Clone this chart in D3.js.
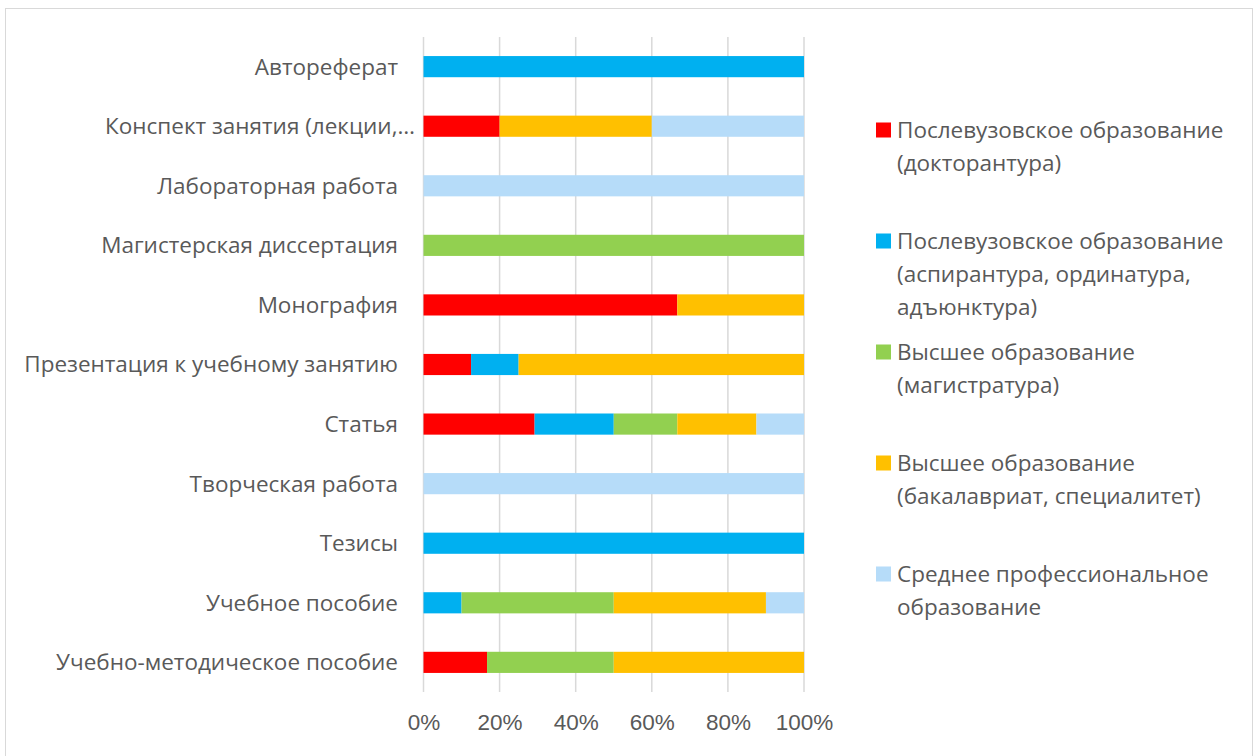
<!DOCTYPE html>
<meta charset="utf-8">
<style>
body { margin: 0; background: #fff; font-family: "Open Sans", sans-serif; }
.grid line { stroke: #d9d9d9; stroke-width: 1.5; }
.axis text { fill: #595959; font-size: 22.5px; }
.cat { fill: #595959; font-size: 22.5px; }
.legend text { fill: #595959; font-size: 22.5px; }
</style>
<body>
<svg width="1259" height="756"></svg>
<script src="https://d3js.org/d3.v7.min.js"></script>
<script>

var categories = ["Автореферат", "Конспект занятия (лекции,…", "Лабораторная работа",
    "Магистерская диссертация", "Монография", "Презентация к учебному занятию", "Статья",
    "Творческая работа", "Тезисы", "Учебное пособие", "Учебно-методическое пособие"];

var seriesNames = [
    ["Послевузовское образование", "(докторантура)"],
    ["Послевузовское образование", "(аспирантура, ординатура,", "адъюнктура)"],
    ["Высшее образование", "(магистратура)"],
    ["Высшее образование", "(бакалавриат, специалитет)"],
    ["Среднее профессиональное", "образование"]
];
var colors = ["#ff0000", "#00b0f0", "#92d050", "#ffc000", "#b6dcf9"];

// shares in %, one value per category
var doctor   = [0, 20, 0, 0, 66.7, 12.5, 29.2, 0, 0, 0, 16.7];
var aspirant = [100, 0, 0, 0, 0, 12.5, 20.8, 0, 100, 10, 0];
var master   = [0, 0, 0, 100, 0, 0, 16.7, 0, 0, 40, 33.3];
var bachelor = [0, 40, 0, 0, 33.3, 75, 20.8, 0, 0, 40, 50];
var college  = [0, 40, 100, 0, 0, 0, 12.5, 100, 0, 10, 0];

var xTicks = [0, 20, 40, 60, 80, 100];

var svg = d3.select("svg");

svg.append("rect")
    .attr("x", 5.5).attr("y", 8.5)
    .attr("width", 1247).attr("height", 760)
    .attr("fill", "#fff").attr("stroke", "#d9d9d9");

var margin = {left: 423.5, top: 37, right: 804, bottom: 692};

var x = d3.scaleLinear().domain([0, 100]).range([margin.left, margin.right]);
var y = d3.scaleBand().domain(categories).range([margin.top, margin.bottom]).paddingInner(0.645).paddingOuter(0.32);

var rows = categories.map(function(c, i) {
    return {cat: c, s0: doctor[i], s1: aspirant[i], s2: master[i], s3: bachelor[i], s4: college[i]};
});
var stack = d3.stack().keys(["s0", "s1", "s2", "s3", "s4"]);
var stacked = stack(rows);

// gridlines
svg.append("g").attr("class", "grid")
    .selectAll("line").data(xTicks).enter().append("line")
    .attr("x1", function(d) { return x(d); })
    .attr("x2", function(d) { return x(d); })
    .attr("y1", margin.top).attr("y2", margin.bottom);

svg.append("g").selectAll("g")
    .data(stacked).enter().append("g")
    .attr("fill", function(d, i) { return colors[i]; })
    .selectAll("rect")
    .data(function(d) { return d; }).enter().append("rect")
    .attr("x", function(d) { return x(d[0]); })
    .attr("width", function(d) { return x(d[1]) - x(d[0]); })
    .attr("y", function(d) { return y(d.data.cat); })
    .attr("height", y.bandwidth());

// category labels (the truncated one sits a bit further right, like Excel does)
svg.append("g").selectAll("text")
    .data(categories).enter().append("text")
    .attr("class", "cat")
    .attr("x", function(d) { return d.slice(-1) === "…" ? 415 : 398; })
    .attr("y", function(d) { return y(d) + y.bandwidth() / 2; })
    .attr("dy", "0.35em")
    .attr("text-anchor", "end")
    .text(function(d) { return d; });

// x axis
var xAxis = svg.append("g").attr("class", "axis")
    .attr("transform", "translate(0," + margin.bottom + ")")
    .call(d3.axisBottom(x).tickValues(xTicks).tickSize(0).tickPadding(22)
        .tickFormat(function(d) { return d + "%"; }));
xAxis.select(".domain").remove();

// legend
var legY = [130, 241, 352, 463, 574];
var leg = svg.append("g").attr("class", "legend")
    .selectAll("g").data(seriesNames).enter().append("g")
    .attr("transform", function(d, i) { return "translate(876," + legY[i] + ")"; });
leg.append("rect")
    .attr("x", 0).attr("y", -7.5).attr("width", 15).attr("height", 15)
    .attr("fill", function(d, i) { return colors[i]; });
leg.each(function(d) {
    var g = d3.select(this);
    d.forEach(function(line, k) {
        g.append("text").attr("x", 21).attr("y", k * 33).attr("dy", "0.35em").text(line);
    });
});

</script>
